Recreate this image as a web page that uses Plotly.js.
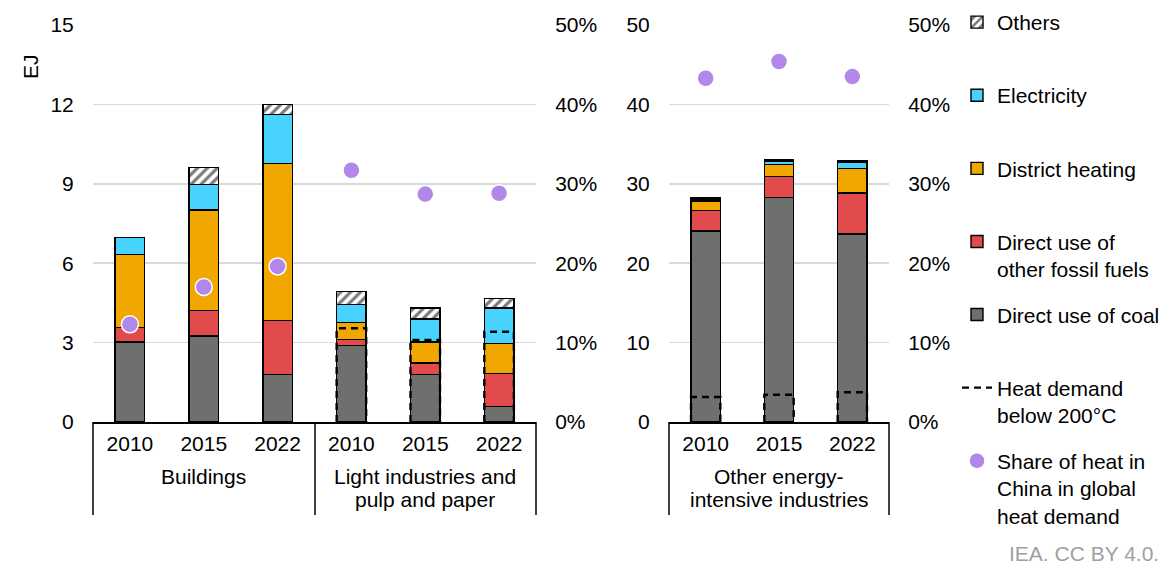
<!DOCTYPE html>
<html>
<head>
<meta charset="utf-8">
<script src="https://cdn.plot.ly/plotly-3.0.1.min.js"></script>
<style>html,body{margin:0;padding:0;background:#fff;}#chart{width:1167px;height:566px;}</style>
</head>
<body>
<div id="chart"></div>
<script>
// ---- data ----
const years = ['2010', '2015', '2022'];
const groupsLeft = ['Buildings', 'Light industries and<br>pulp and paper'];
const groupRight = 'Other energy-<br>intensive industries';

// left panel: Buildings 2010/2015/2022, Light industries 2010/2015/2022 (EJ)
const coalL = [3.02, 3.25, 1.80, 2.90, 1.80, 0.59];
const fossilL = [0.54, 0.97, 2.04, 0.22, 0.43, 1.24];
const districtL = [2.76, 3.79, 5.92, 0.65, 0.79, 1.13];
const elecL = [0.64, 0.97, 1.85, 0.68, 0.87, 1.35];
const othersL = [0, 0.64, 0.39, 0.47, 0.41, 0.36];
const heatL = [null, null, null, 3.54, 3.10, 3.41];
const shareL = [0.123, 0.170, 0.196, 0.317, 0.287, 0.288];

// right panel: Other energy-intensive industries 2010/2015/2022 (EJ)
const coalR = [24.05, 28.3, 23.7];
const fossilR = [2.61, 2.6, 5.14];
const districtR = [1.17, 1.55, 3.06];
const elecR = [0.25, 0.35, 0.8];
const othersR = [0.17, 0.2, 0.17];
const heatR = [3.15, 3.44, 3.74];
const shareR = [0.433, 0.454, 0.435];

// ---- styles ----
const FONT = 'Liberation Sans, Arial, sans-serif';
const FS = 21;
const C = {coal: '#6e706e', fossil: '#e24b4b', district: '#f0a800', elec: '#48d3ff', share: '#b287ea'};
const BARW = 0.4;
const outline = {color: '#000', width: 1.4};

const xL = coalL.map((_, i) => i);
const xR = coalR.map((_, i) => i);

function bars(name, x, y, color, xa, ya, show, rank, pattern) {
  const m = {color: color, line: outline};
  if (pattern) m.pattern = pattern;
  return {type: 'bar', name: name, x: x, y: y, width: BARW, marker: m,
    xaxis: xa, yaxis: ya, showlegend: show, legendgroup: 'g' + rank, legendrank: rank, hoverinfo: 'y'};
}
const hatch = {shape: '/', fgcolor: '#7a7a7a', bgcolor: '#ffffff', size: 7, solidity: 0.45, fillmode: 'replace'};

function heatPath(x, vals) {
  const px = [], py = [];
  vals.forEach((v, i) => {
    if (v === null) return;
    const h = BARW / 2;
    px.push(x[i] - h, x[i] - h, x[i] + h, x[i] + h, null);
    py.push(0, v, v, 0, null);
  });
  return {px, py};
}
const hL = heatPath(xL, heatL);
const hR = heatPath(xR, heatR);

const pad = '<br> ';
const names = {
  others: 'Others' + pad,
  elec: 'Electricity' + pad,
  district: 'District heating' + pad,
  fossil: 'Direct use of<br>other fossil fuels',
  coal: 'Direct use of coal' + pad,
  heat: 'Heat demand<br>below 200°C',
  share: 'Share of heat in<br>China in global<br>heat demand'
};

const dashLine = {color: '#000', width: 2.4, dash: '7px,5px'};
const dotMarker = {color: C.share, size: 17, line: {color: '#fff', width: 1.5}};

const traces = [
  bars(names.coal, xL, coalL, C.coal, 'x', 'y', true, 5),
  bars(names.fossil, xL, fossilL, C.fossil, 'x', 'y', true, 4),
  bars(names.district, xL, districtL, C.district, 'x', 'y', true, 3),
  bars(names.elec, xL, elecL, C.elec, 'x', 'y', true, 2),
  bars(names.others, xL, othersL, '#ffffff', 'x', 'y', true, 1, hatch),
  bars(names.coal, xR, coalR, C.coal, 'x3', 'y3', false, 5),
  bars(names.fossil, xR, fossilR, C.fossil, 'x3', 'y3', false, 4),
  bars(names.district, xR, districtR, C.district, 'x3', 'y3', false, 3),
  bars(names.elec, xR, elecR, C.elec, 'x3', 'y3', false, 2),
  bars(names.others, xR, othersR, '#ffffff', 'x3', 'y3', false, 1, hatch),
  {type: 'scatter', mode: 'lines', name: names.heat, x: hL.px, y: hL.py, xaxis: 'x', yaxis: 'y',
    line: dashLine, showlegend: true, legendgroup: 'g6', legendrank: 6, hoverinfo: 'skip', connectgaps: false},
  {type: 'scatter', mode: 'lines', name: names.heat, x: hR.px, y: hR.py, xaxis: 'x3', yaxis: 'y3',
    line: dashLine, showlegend: false, legendgroup: 'g6', legendrank: 6, hoverinfo: 'skip', connectgaps: false},
  {type: 'scatter', mode: 'markers', name: names.share, x: xL, y: shareL, xaxis: 'x', yaxis: 'y2',
    marker: dotMarker, showlegend: true, legendgroup: 'g7', legendrank: 7},
  {type: 'scatter', mode: 'markers', name: names.share, x: xR, y: shareR, xaxis: 'x3', yaxis: 'y4',
    marker: dotMarker, showlegend: false, legendgroup: 'g7', legendrank: 7}
];

const W = 1167, H = 566;
const px = v => v / W, py = v => 1 - v / H;
const tickFont = {family: FONT, size: FS, color: '#000'};
const yDom = [py(422), py(25)];

const xCommon = {showgrid: false, zeroline: false, showline: true, linecolor: '#000', linewidth: 1.5,
  ticks: 'outside', ticklen: 2, tickcolor: 'rgba(0,0,0,0)', tickfont: tickFont, fixedrange: true};
const yLeftCommon = {showgrid: true, gridcolor: '#d9d9d9', gridwidth: 1.5, zeroline: false, showline: false,
  ticks: 'outside', ticklen: 14, tickcolor: 'rgba(0,0,0,0)', tickfont: tickFont, fixedrange: true};
const yRightCommon = {showgrid: false, zeroline: false, showline: false, side: 'right', range: [0, 0.5],
  tickvals: [0, 0.1, 0.2, 0.3, 0.4, 0.5], tickformat: '.0%',
  ticks: 'outside', ticklen: 14, tickcolor: 'rgba(0,0,0,0)', tickfont: tickFont, fixedrange: true};

const lineBottom = py(515);
const vlines = [93, 315, 536, 669, 889].map(xv => ({type: 'line', xref: 'paper', yref: 'paper',
  x0: px(xv), x1: px(xv), y0: py(422), y1: lineBottom, line: {color: '#000', width: 1.5}}));

const annFont = {family: FONT, size: FS, color: '#000'};
const annotations = [];
function groupLabel(text, xref, xc) {
  text.split('<br>').forEach((ln, k) => {
    annotations.push({text: ln, xref: xref, yref: 'paper', x: xc, y: py(476 + 24 * k), yanchor: 'middle',
      showarrow: false, font: annFont});
  });
}
groupLabel(groupsLeft[0], 'x', 1);
groupLabel(groupsLeft[1], 'x', 4);
groupLabel(groupRight, 'x3', 1);
annotations.push(
  {text: 'EJ', xref: 'paper', yref: 'paper', x: px(17), y: py(52), textangle: -90, showarrow: false, font: annFont},
  {text: 'IEA. CC BY 4.0.', xref: 'paper', yref: 'paper', x: px(1161), y: py(553), xanchor: 'right', yanchor: 'middle',
    showarrow: false, font: {family: FONT, size: FS, color: '#a0a0a0'}}
);

const layout = {
  width: W, height: H, margin: {l: 0, r: 0, t: 0, b: 0},
  paper_bgcolor: '#fff', plot_bgcolor: 'rgba(0,0,0,0)',
  barmode: 'stack', bargap: 0,
  font: {family: FONT, size: FS, color: '#000'},
  xaxis: Object.assign({}, xCommon, {domain: [px(93), px(536)], range: [-0.5, 5.5],
    tickvals: xL, ticktext: xL.map(i => years[i % 3]), anchor: 'y'}),
  yaxis: Object.assign({}, yLeftCommon, {domain: yDom, range: [0, 15], tickvals: [0, 3, 6, 9, 12, 15], anchor: 'x'}),
  yaxis2: Object.assign({}, yRightCommon, {overlaying: 'y', anchor: 'x'}),
  xaxis3: Object.assign({}, xCommon, {domain: [px(669), px(889)], range: [-0.5, 2.5],
    tickvals: xR, ticktext: years, anchor: 'y3'}),
  yaxis3: Object.assign({}, yLeftCommon, {domain: yDom, range: [0, 50], tickvals: [0, 10, 20, 30, 40, 50], anchor: 'x3'}),
  yaxis4: Object.assign({}, yRightCommon, {overlaying: 'y3', anchor: 'x3'}),
  legend: {x: px(957), xanchor: 'left', y: py(2), yanchor: 'top', valign: 'top', traceorder: 'grouped',
    font: {family: FONT, size: FS, color: '#000'}, bgcolor: 'rgba(0,0,0,0)', tracegroupgap: 15.5, itemclick: false},
  shapes: vlines,
  annotations: annotations,
  showlegend: true
};

Plotly.newPlot('chart', traces, layout, {displayModeBar: false, staticPlot: true});
</script>
</body>
</html>
